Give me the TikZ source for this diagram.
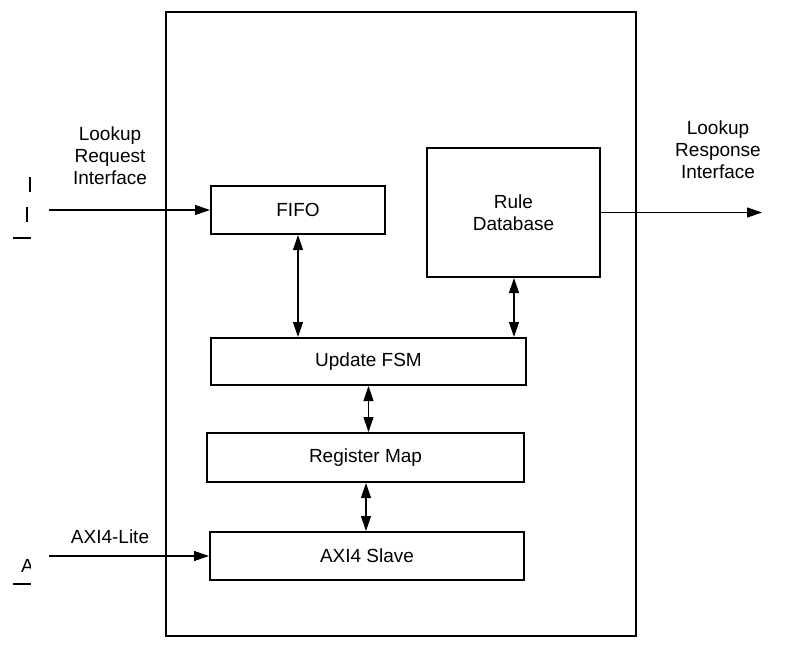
\documentclass[tikz,border=0pt]{standalone}
\usepackage{fontspec}
\setmainfont{Liberation Sans}
\usetikzlibrary{arrows.meta}
\begin{document}
\begin{tikzpicture}[x=1pt,y=-1pt,
  blk/.style={draw,line width=2pt,rectangle,inner sep=0pt,font=\fontsize{19}{22}\selectfont,align=center},
  lbl/.style={inner sep=0pt,font=\fontsize{19}{22}\selectfont,align=center},
  tip/.tip={Triangle[length=15pt,width=10pt]},
  sig/.style={line width=1.2pt,-tip},
  bidir/.style={line width=1.2pt,tip-tip}]
  \useasboundingbox (0,0) rectangle (796,648);

  % enclosing block
  \node[draw,line width=2pt,minimum width=470pt,minimum height=624pt,inner sep=0pt] (core) at (401,324) {};

  % internal blocks
  \node[blk,minimum width=174pt,minimum height=48pt] (fifo) at (298,210) {FIFO};
  \node[blk,minimum width=173pt,minimum height=129pt] (rule) at (513.5,212.5) {Rule\\Database};
  \node[blk,minimum width=315pt,minimum height=47pt] (fsm) at (368.5,361.5) {Update FSM};
  \node[blk,minimum width=317pt,minimum height=49pt] (reg) at (365.5,457.5) {Register Map};
  \node[blk,minimum width=314pt,minimum height=48pt] (axi) at (367,556) {AXI4 Slave};

  % external labels
  \node[lbl] (lreq) at (110,156) {Lookup\\Request\\Interface};
  \node[lbl] (lrsp) at (718,150) {Lookup\\Response\\Interface};
  \node[lbl] (laxi) at (110,537) {AXI4-Lite};

  % free ends of the external signals
  \coordinate (reqin) at (49,210);
  \coordinate (rspout) at (762,212.5);
  \coordinate (axiin) at (49,556);

  \draw[sig] (reqin) -- (fifo.west);
  \draw[sig] (rule.east) -- (rspout);
  \draw[sig] (axiin) -- (axi.west);

  % internal connections
  \draw[bidir] (fifo.south) -- (fifo.south |- fsm.north);
  \draw[bidir] ([xshift=0.5pt]rule.south) -- ([xshift=0.5pt]rule.south |- fsm.north);
  \draw[bidir] (fsm.south) -- (fsm.south |- reg.north);
  \draw[bidir] ([xshift=0.5pt]reg.south) -- ([xshift=0.5pt]reg.south |- axi.north);

  % cut-off marks at the left edge
  \draw[line width=1.5pt] (30,177) -- (30,192);
  \draw[line width=2pt] (27,207) -- (27,222);
  \draw[line width=2pt] (13,238) -- (31,238);
  \begin{scope}
    \clip (0,540) rectangle (30,590);
    \node[lbl,anchor=south west] (afrag) at (21,573) {A};
  \end{scope}
  \draw[line width=2pt] (13,584) -- (31,584);
\end{tikzpicture}
\end{document}
